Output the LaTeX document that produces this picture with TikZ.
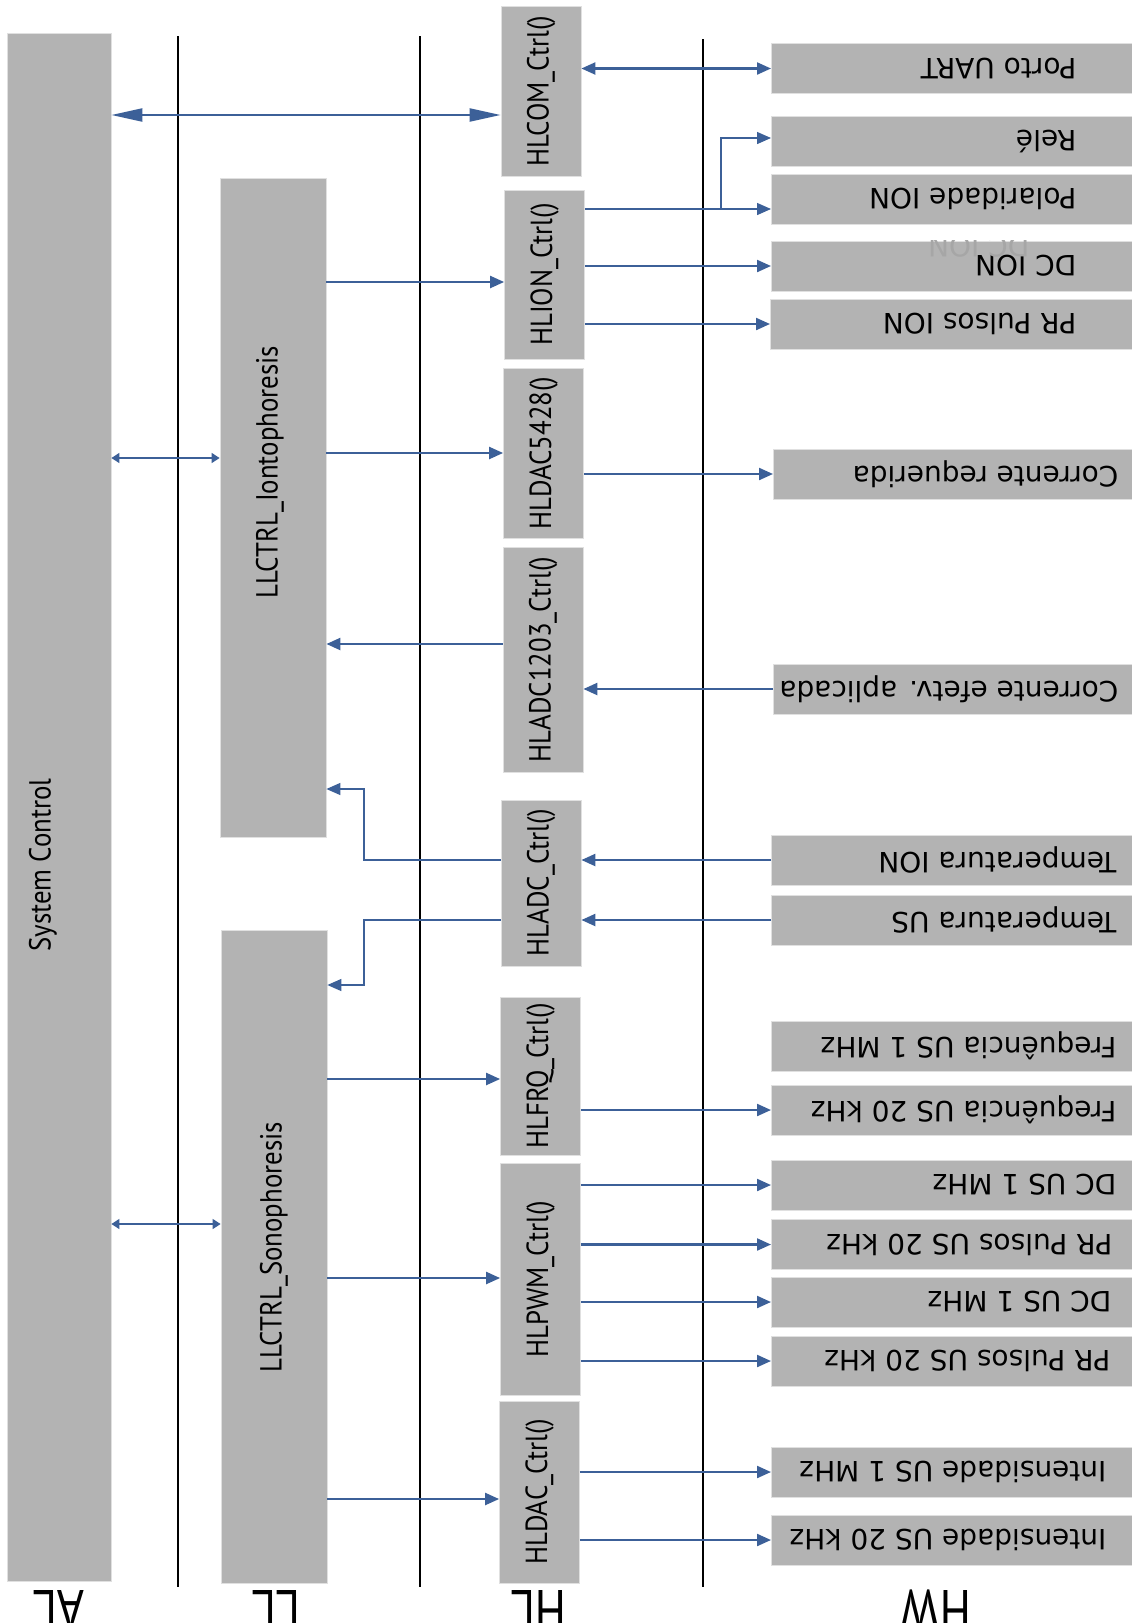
\documentclass[tikz,border=0pt]{standalone}
\usepackage{graphicx}
\usepackage{fontspec}
\setmainfont{DejaVu Sans}
\newfontfamily\labelfont{PT Sans}
\usetikzlibrary{arrows.meta}
\definecolor{boxgray}{RGB}{179,179,179}
\definecolor{linkblue}{RGB}{60,96,152}
\definecolor{ghostgray}{RGB}{166,166,166}
% text written upwards, slightly narrowed
\newcommand{\uplabel}[1]{\rotatebox{90}{\scalebox{0.88}[1]{#1}}}

\begin{document}
\begin{tikzpicture}[x=1pt,y=-1pt,
        >={Triangle[length=14pt,width=12pt]},
        blk/.style={fill=boxgray,draw=black!12,line width=.8pt,inner sep=0pt},
        vtxt/.style={font=\labelfont\fontsize{30.5}{32}\selectfont},
        hwtxt/.style={rotate=180,anchor=west,font=\fontsize{28}{30}\selectfont},
        link/.style={draw=linkblue,line width=2.2pt},
        thinlink/.style={draw=linkblue,line width=1.4pt}]
            \fill[white] (0,0) rectangle (1132,1623);
            \useasboundingbox (0,0) rectangle (1132,1623);
            % layer separators
            \foreach \x/\y in {178/36,420/36,703/39}
                \draw[line width=2pt] (\x,\y) -- (\x,1587);
            % application and low level layers
            \node[blk,minimum width=104,minimum height=1548] at (59,807)(al){};
            \node[vtxt] at (43,865){\uplabel{System Control}};
            \node[blk,minimum width=106,minimum height=659] at (273,507.5)(lli){};
            \node[vtxt] at (270,472){\uplabel{LLCTRL\_Iontophoresis}};
            \node[blk,minimum width=106,minimum height=653] at (274,1256.5)(lls){};
            \node[vtxt] at (274,1247){\uplabel{LLCTRL\_Sonophoresis}};
            % high level drivers
            \foreach \nm/\x/\ya/\yb/\lbl in {hlcom/541/6/176/HLCOM\_Ctrl(),
                    hlion/544.5/190/359/HLION\_Ctrl(),
                    hldaca/543.5/368/538/HLDAC5428(),
                    hladcb/543/547/772/HLADC1203\_Ctrl(),
                    hladc/541/800/966/HLADC\_Ctrl(),
                    hlfrq/540.5/997/1155/HLFRQ\_Ctrl(),
                    hlpwm/540.5/1163/1395/HLPWM\_Ctrl(),
                    hldac/539.5/1401/1583/HLDAC\_Ctrl()}
                \node[blk,vtxt,minimum width=80,minimum height={\yb-\ya}] at (\x,{(\ya+\yb)/2})(\nm){\uplabel{\lbl}};
            % hardware signals
            \foreach \nm/\xl/\y/\tx/\lbl in {porto/771/68.5/1080/Porto UART,
                    rele/771/141/1080/Relé,
                    polar/771/199/1080/Polaridade ION,
                    dcion/771/266/1080/DC ION,
                    prion/770/324/1080/PR Pulsos ION,
                    creq/773/474/1122/Corrente requerida,
                    cefet/773/689/1122/Corrente efetv. aplicada,
                    tion/771/860/1120/Temperatura ION,
                    tus/771/920/1120/Temperatura US,
                    fusa/771/1046/1120/Frequência US 1 MHz,
                    fusb/771/1110/1120/Frequência US 20 kHz,
                    dcusa/771/1185/1120/DC US 1 MHz,
                    prusa/771/1244.5/1116/PR Pulsos US 20 kHz,
                    dcusb/771/1302/1115/DC US 1 MHz,
                    prusb/771/1361/1114/PR Pulsos US 20 kHz,
                    inta/771/1472/1110/Intensidade US 1 MHz,
                    intb/771/1540/1110/Intensidade US 20 kHz}{
                \node[blk,minimum width=380,minimum height=50,anchor=west] at (\xl,\y)(\nm){};
                \node[hwtxt] at (\tx,\y){\lbl};
            }
            \begin{scope}
                \clip (dcion.north west) rectangle (dcion.south east);
                \node[hwtxt,text=ghostgray] at (1033,247){DC ION};
            \end{scope}
            % layer names
            \foreach \x/\lbl in {59/AL,276/LL,539/HL,936/HW}
                \node[rotate=180,anchor=base,font=\labelfont\fontsize{52}{52}\selectfont] at (\x,1590){\scalebox{0.9}[1.1]{\lbl}};
            % links
            \path[link,<->,>={Triangle[length=31pt,width=13pt]}] (al.east |- 0,115) -- (hlcom.west |- 0,115);
            \path[link,<->] (hlcom.east |- porto) -- (porto.west);
            \foreach \y/\ll in {458/lli,1224/lls}
                \path[thinlink,<->,>={Triangle[length=8pt,width=10pt]}] (al.east |- 0,\y) -- (\ll.west |- 0,\y);
            \foreach \a/\b/\y in {lli/hlion/282,lli/hldaca/453,lls/hlfrq/1079,lls/hlpwm/1278,lls/hldac/1499}
                \path[link,->] (\a.east |- 0,\y) -- (\b.west |- 0,\y);
            \foreach \a/\b in {hlion/dcion,hlion/prion,hldaca/creq,hlfrq/fusb,hlpwm/dcusa,hlpwm/prusa,hlpwm/dcusb,hlpwm/prusb,hldac/inta,hldac/intb}
                \path[link,->] (\a.east |- \b) -- (\b.west);
            \foreach \a/\b in {cefet/hladcb,tion/hladc,tus/hladc}
                \path[link,->] (\a.west) -- (\b.east |- \a);
            \path[link,->] (hladcb.west |- 0,644) -- (lli.east |- 0,644);
            % relay and polarity share one output
            \coordinate (split) at (721,209);
            \path[thinlink,->] (hlion.east |- split) -- (split) -- (polar.west |- split);
            \path[thinlink,->] (split) |- (rele.west |- 0,138);
            % temperature readings back to the low level
            \coordinate (bend) at (364,0);
            \path[thinlink,->] (hladc.west |- tion) -- (bend |- tion) -- (bend |- 0,789) -- (lli.east |- 0,789);
            \path[thinlink,->] (hladc.west |- tus) -- (bend |- tus) -- (bend |- 0,985) -- (lls.east |- 0,985);
        \end{tikzpicture}
\end{document}
